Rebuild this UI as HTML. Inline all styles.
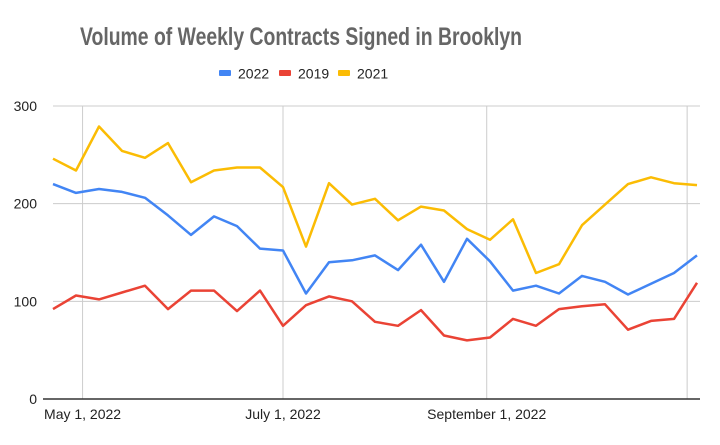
<!DOCTYPE html>
<html><head><meta charset="utf-8"><style>
html,body{margin:0;padding:0;background:#fff;}
svg{display:block;font-family:"Liberation Sans",Arial,sans-serif;}
</style></head><body>
<svg id="chart" width="720" height="445">
<rect width="720" height="445" fill="#fff"/>
<text x="301" y="45" text-anchor="middle" font-size="25" font-weight="bold" fill="#666" textLength="442" lengthAdjust="spacingAndGlyphs">Volume of Weekly Contracts Signed in Brooklyn</text>
<g id="legend"></g>
<g id="grid"></g>
<g id="series"></g>
<g id="axes"></g>
</svg>
<script>
const seriesNames = ["2022","2019","2021"];
const seriesColors = ["#4285f4","#ea4335","#fbbc04"];
const values2022 = [220,211,215,212,206,188,168,187,177,154,152,108,140,142,147,132,158,120,164,141,111,116,108,126,120,107,118,129,147];
const values2019 = [92,106,102,109,116,92,111,111,90,111,75,96,105,100,79,75,91,65,60,63,82,75,92,95,97,71,80,82,119];
const values2021 = [246,234,279,254,247,262,222,234,237,237,217,156,221,199,205,183,197,193,174,163,184,129,138,178,199,220,227,221,219];
const yTicks = [0,100,200,300];
const xTickLabels = ["May 1, 2022","July 1, 2022","September 1, 2022",""];
const xTickDays = [9,70,132,193]; // days from first data point (Apr 22, 2022)

const NS="http://www.w3.org/2000/svg";
const X0=53, X1=697, Y0=399, Ymax=106, VMAX=300, TOTAL_DAYS=196;
function xDay(d){return X0+(X1-X0)*d/TOTAL_DAYS;}
function xIdx(i){return xDay(i*7);}
function y(v){return Y0-(Y0-Ymax)*v/VMAX;}
function mk(tag,attrs,parent){const e=document.createElementNS(NS,tag);for(const k in attrs)e.setAttribute(k,attrs[k]);parent.appendChild(e);return e;}

const grid=document.getElementById('grid');
yTicks.forEach(t=>{
  if(t>0){const l=mk('line',{x1:X0,x2:X1+3,y1:y(t),y2:y(t),stroke:'#ccc','stroke-width':1},grid);
  
  }
  const tx=mk('text',{x:37,y:y(t)+5,'text-anchor':'end','font-size':14,fill:'#222'},grid);
  tx.textContent=t;
  
  
});
xTickDays.forEach((d,i)=>{
  const l=mk('line',{x1:xDay(d),x2:xDay(d),y1:Ymax,y2:Y0,stroke:'#ccc','stroke-width':1},grid);
  
  
  if(xTickLabels[i]){
    const tx=mk('text',{x:xDay(d),y:419,'text-anchor':'middle','font-size':14,fill:'#222'},grid);
    tx.textContent=xTickLabels[i];
    
    
  }
});
const axes=document.getElementById('axes');
const ax=mk('line',{x1:X0-10,x2:X1+3,y1:Y0,y2:Y0,stroke:'#333','stroke-width':1.5},axes);



const seriesG=document.getElementById('series');
[values2022,values2019,values2021].forEach((vals,s)=>{
  const pts=vals.map((v,i)=>xIdx(i).toFixed(1)+','+y(v).toFixed(1)).join(' ');
  const p=mk('polyline',{points:pts,fill:'none',stroke:seriesColors[s],'stroke-width':2.5,'stroke-linejoin':'round'},seriesG);
  
  
});

const legend=document.getElementById('legend');
const legX=[219,279,338];
seriesNames.forEach((n,s)=>{
  const r=mk('rect',{x:legX[s],y:70,width:12,height:6,rx:1,fill:seriesColors[s]},legend);
  
  
  const t=mk('text',{x:legX[s]+19,y:78.5,'font-size':14,fill:'#222'},legend);
  t.textContent=n;
  
  
});
</script>
</body></html>
